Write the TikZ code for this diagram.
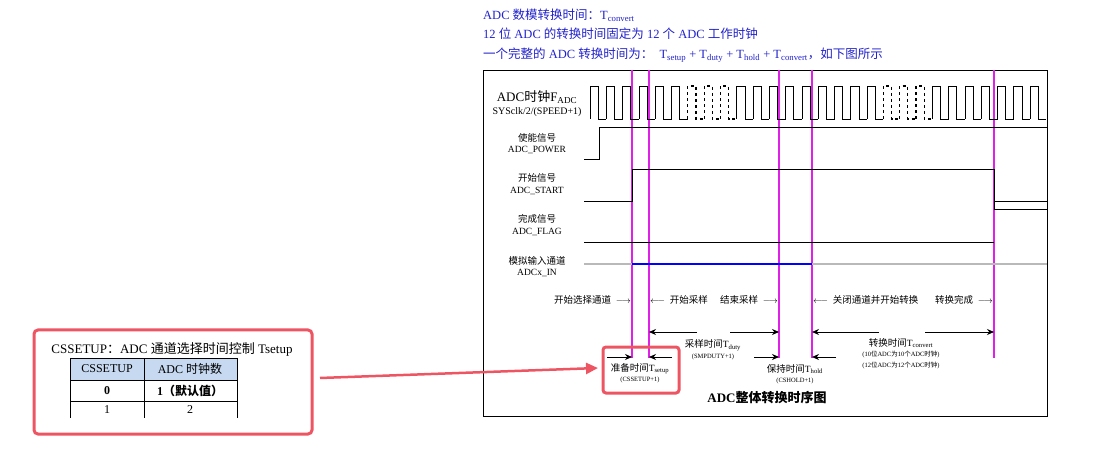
\documentclass[tikz,border=0pt]{standalone}
\usepackage{fontspec}
\setmainfont{Liberation Serif}
\newfontfamily\cjk{Noto Sans CJK SC}
\usetikzlibrary{arrows.meta}
\definecolor{mag}{HTML}{E020E8}
\definecolor{redb}{HTML}{EE5563}
\definecolor{blt}{HTML}{2222CC}
\definecolor{hdr}{HTML}{C6D9F1}
\tikzset{
  lbl/.style={inner sep=0pt,font=\fontsize{9.5}{10}\selectfont,align=center},
  sm/.style={inner sep=0pt,font=\fontsize{6.5}{7}\selectfont,align=center},
  sig/.style={line width=0.7pt},
  clkd/.style={dashed,line width=1.1pt},
  clkn/.style={},
  vline/.style={mag,line width=1.4pt},
  arr/.style={-{Stealth[length=7pt,width=6pt]},line width=0.8pt},
  top/.style={inner sep=0pt,anchor=west,text=blt,font=\fontsize{12.5}{13}\selectfont},
  cell/.style={inner sep=0pt,font=\fontsize{12}{13}\selectfont},
}
\begin{document}
\begin{tikzpicture}[x=1pt,y=-1pt]
\useasboundingbox (0,0) rectangle (1112,473);
% top text
\node[top] (t1) at (483,15) {ADC {\cjk 数模转换时间：}T\textsubscript{convert}};
\node[top] (t2) at (483,34) {12 {\cjk 位} ADC {\cjk 的转换时间固定为} 12 {\cjk 个} ADC {\cjk 工作时钟}};
\node[top] (t3) at (483,55) {{\cjk 一个完整的} ADC {\cjk 转换时间为：}\ \ T\textsubscript{setup} + T\textsubscript{duty} + T\textsubscript{hold} + T\textsubscript{convert}{\cjk ，如下图所示}};
% frame
\draw[line width=0.8pt] (483,70) rectangle (1047,416);
% magenta lines
\foreach \n/\x in {a/632,b/649,c/779,d/812,e/994}{
  \coordinate (\n t) at (\x,70); \coordinate (\n b) at (\x,358);
  \draw[vline] (\n t) -- (\n b);}
% clock
\foreach \i in {0,...,27}{
  \pgfmathsetmacro\xa{590+\i*16.3}\pgfmathsetmacro\xb{\xa+8.15}\pgfmathsetmacro\xc{min(\xa+16.3,1047)}
  \def\st{clkn}
  \ifnum\i=6 \def\st{clkd}\fi
  \ifnum\i=7 \def\st{clkd}\fi
  \ifnum\i=8 \def\st{clkd}\fi
  \ifnum\i=18 \def\st{clkd}\fi
  \ifnum\i=19 \def\st{clkd}\fi
  \ifnum\i=20 \def\st{clkd}\fi
  \draw[sig,\st] (\xa,119) -- (\xa,86) -- (\xb,86) -- (\xb,119) -- (\xc,119);
}
\node[lbl,font=\fontsize{13}{14}\selectfont] (clk) at (537,97) {ADC{\cjk 时钟}F\textsubscript{ADC}};
\node[lbl,font=\fontsize{10}{11}\selectfont] (clk2) at (537,112) {SYSclk/2/(SPEED+1)};
% power
\draw[sig] (584,159) -- (599,159) -- (599,127) -- (1047,127);
\node[lbl] (p1) at (537,138) {\cjk 使能信号};
\node[lbl] (p2) at (537,150) {ADC\_POWER};
% start
\draw[sig] (584,201) -- (at|-0,201) -- (at|-0,169) -- (et|-0,169) -- (et|-0,209) -- (1047,209);
\draw[sig] (et|-0,201) -- (1047,201);
\node[lbl] (s1) at (537,178) {\cjk 开始信号};
\node[lbl] (s2) at (537,191) {ADC\_START};
% flag
\draw[sig] (584,242) -- (et|-0,242);
\node[lbl] (f1) at (537,219) {\cjk 完成信号};
\node[lbl] (f2) at (537,232) {ADC\_FLAG};
% in
\draw[gray!55,line width=2pt] (584,264) -- (1047,264);
\draw[blue,line width=2pt] (at|-0,264) -- (dt|-0,264);
\node[lbl] (i1) at (537,261) {\cjk 模拟输入通道};
\node[lbl] (i2) at (537,273) {ADCx\_IN};
% events
\node[lbl,anchor=east] (e1) at (631,300) {{\cjk 开始选择通道}\ \ $\longrightarrow$};
\node[lbl,anchor=west] (e2) at (650,300) {$\longleftarrow$\ \ {\cjk 开始采样}};
\node[lbl,anchor=east] (e3) at (778,300) {{\cjk 结束采样}\ \ $\longrightarrow$};
\node[lbl,anchor=west] (e4) at (813,300) {$\longleftarrow$\ \ {\cjk 关闭通道并开始转换}};
\node[lbl,anchor=east] (e5) at (993,300) {{\cjk 转换完成}\ \ $\longrightarrow$};
% duty arrows
\coordinate (d1) at (697,332); \coordinate (d2) at (730,332);
\coordinate (cv1) at (879,332); \coordinate (cv2) at (925,332);
\draw[arr] (d1) -- (bt|-d1);
\draw[arr] (d2) -- (ct|-d2);
\draw[arr] (cv1) -- (dt|-cv1);
\draw[arr] (cv2) -- (et|-cv2);
\node[lbl] (tduty) at (713,345) {{\cjk 采样时间}T\textsubscript{duty}};
\node[sm] (tduty2) at (713,357) {(SMPDUTY+1)};
\node[lbl] (tconv) at (901,343) {{\cjk 转换时间}T\textsubscript{convert}};
\node[sm] (tconv2) at (901,354) {(10{\cjk 位}ADC{\cjk 为}10{\cjk 个}ADC{\cjk 时钟})};
\node[sm] (tconv3) at (901,365) {(12{\cjk 位}ADC{\cjk 为}12{\cjk 个}ADC{\cjk 时钟})};
% setup / hold arrows
\coordinate (s1a) at (607,357); \coordinate (s2a) at (672,357);
\coordinate (h1a) at (754,357); \coordinate (h2a) at (836,357);
\draw[arr] (s1a) -- (at|-s1a);
\draw[arr] (s2a) -- (bt|-s2a);
\draw[arr] (h1a) -- (ct|-h1a);
\draw[arr] (h2a) -- (dt|-h2a);
\node[lbl] (tset) at (640,369) {{\cjk 准备时间}T\textsubscript{setup}};
\node[sm] (tset2) at (640,380) {(CSSETUP+1)};
\node[lbl] (thold) at (795,369) {{\cjk 保持时间}T\textsubscript{hold}};
\node[sm] (thold2) at (795,381) {(CSHOLD+1)};
\node[inner sep=0pt,font=\fontsize{13}{14}\selectfont\bfseries] (title) at (767,398) {ADC{\cjk\bfseries 整体转换时序图}};
% red box
\draw[redb,line width=3pt,rounded corners=3pt] (603,347) rectangle (679,393);
\coordinate (rb) at (598,368);
% left box
\draw[redb,line width=3pt,rounded corners=4pt] (34,330) rectangle (312,434);
\coordinate (la) at (320,378);
\draw[redb,line width=2.5pt,-{Triangle[length=12pt,width=11pt]}] (la) -- (rb);
\node[inner sep=0pt,font=\fontsize{13}{14}\selectfont] (lt) at (172,349) {CSSETUP{\cjk ：}ADC {\cjk 通道选择时间控制} Tsetup};
\fill[hdr] (70,358) rectangle (237,380);
\draw[line width=0.7pt] (70,358) -- (237,358) (70,380) -- (237,380) (70,401) -- (237,401)
  (70,358) -- (70,418) (144,358) -- (144,418) (237,358) -- (237,418);
\node[cell] (h1) at (107,369) {CSSETUP};
\node[cell] (h2) at (190,369) {ADC {\cjk 时钟数}};
\node[cell,font=\fontsize{12}{13}\selectfont\bfseries] (r1) at (107,391) {0};
\node[cell,font=\fontsize{12}{13}\selectfont\bfseries] (r2) at (190,391) {1{\cjk\bfseries （默认值）}};
\node[cell] (r3) at (107,410) {1};
\node[cell] (r4) at (190,410) {2};
\end{tikzpicture}
\end{document}
